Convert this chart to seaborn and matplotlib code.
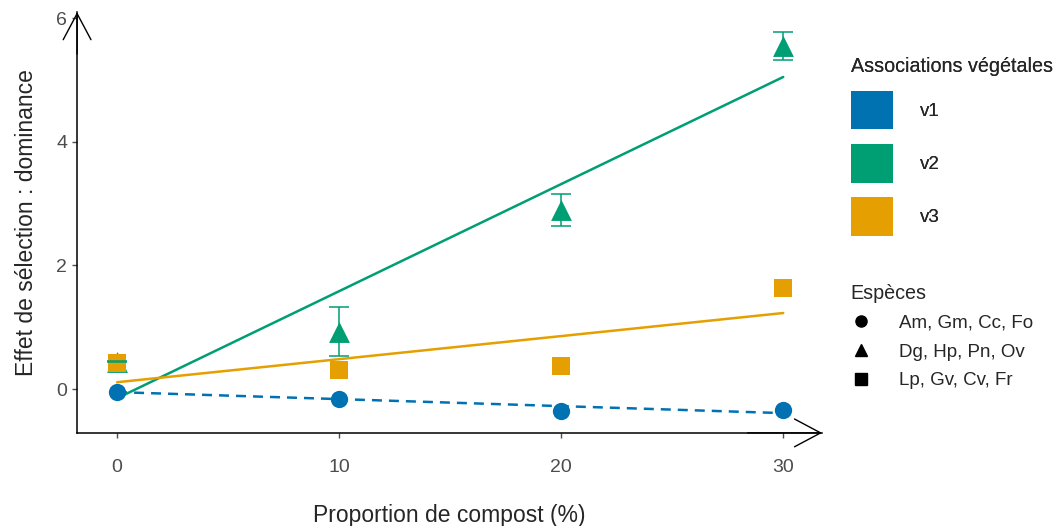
import numpy as np
import pandas as pd
import matplotlib
matplotlib.use('Agg')
import matplotlib.pyplot as plt
import seaborn as sns
from matplotlib.patches import Patch
from matplotlib.lines import Line2D

#------------------------------------------------------------------------------
# data
compost = [0, 10, 20, 30]
v1_mean = [-0.05, -0.16, -0.36, -0.34]
v2_mean = [0.44, 0.93, 2.90, 5.55]
v2_err = [0.01, 0.40, 0.26, 0.22]
v3_mean = [0.42, 0.30, 0.37, 1.63]

# fitted lines (value at 0 % and at 30 %)
fit_x = [0, 30]
v1_fit = [-0.05, -0.39]
v2_fit = [-0.15, 5.05]
v3_fit = [0.11, 1.23]

assoc = ['v1', 'v2', 'v3']
especes = ['Am, Gm, Cc, Fo', 'Dg, Hp, Pn, Ov', 'Lp, Gv, Cv, Fr']
colors = {'v1': '#0072B2', 'v2': '#009E73', 'v3': '#E69F00'}
markers = {'v1': 'o', 'v2': '^', 'v3': 's'}
sizes = {'v1': 155, 'v2': 225, 'v3': 160}
#------------------------------------------------------------------------------
df = pd.DataFrame({'compost': compost * 3,
                   'effet': v1_mean + v2_mean + v3_mean,
                   'assoc': ['v1'] * 4 + ['v2'] * 4 + ['v3'] * 4})
df_fit = pd.DataFrame({'compost': fit_x * 3,
                       'effet': v1_fit + v2_fit + v3_fit,
                       'assoc': ['v1'] * 2 + ['v2'] * 2 + ['v3'] * 2})

sns.set_style('white')
plt.rcParams['font.family'] = ['Liberation Sans', 'DejaVu Sans']

fig = plt.figure(figsize=(10.56, 5.26), dpi=100)
ax = fig.add_axes([0.073, 0.177, 0.7055, 0.800])

# fitted lines
for a in assoc:
    sub = df_fit[df_fit.assoc == a]
    if a == 'v1':
        sns.lineplot(data=sub, x='compost', y='effet', color=colors[a],
                     lw=1.8, ax=ax, legend=False, zorder=2,
                     dashes=(4, 2.8))
    else:
        sns.lineplot(data=sub, x='compost', y='effet', color=colors[a],
                     lw=1.8, ax=ax, legend=False, zorder=2)

# points
for a in ['v2', 'v3', 'v1']:
    sub = df[df.assoc == a]
    sns.scatterplot(data=sub, x='compost', y='effet', color=colors[a],
                    marker=markers[a], s=sizes[a], linewidth=0, ax=ax,
                    legend=False, zorder=3)

ax.errorbar(compost, v2_mean, yerr=v2_err, fmt='none', ecolor=colors['v2'],
            elinewidth=1.1, capsize=7, capthick=1.1, zorder=4)

ax.set_xlim(-1.8, 31.75)
ax.set_ylim(-0.71, 6.1)
ax.set_xticks([0, 10, 20, 30])
ax.set_yticks([0, 2, 4, 6])
ax.tick_params(axis='both', colors='#4D4D4D', labelsize=14, length=3.6,
               width=1, direction='out', bottom=True, left=True)
ax.tick_params(axis='x', pad=15)
ax.tick_params(axis='y', pad=3.5)
for s in ['top', 'right']:
    ax.spines[s].set_visible(False)
for s in ['left', 'bottom']:
    ax.spines[s].set_color('black')
    ax.spines[s].set_linewidth(1.1)

# arrow heads on the axes
arrow = dict(arrowstyle='->,head_length=0.94,head_width=0.5', color='black',
             lw=1.0, mutation_scale=20, shrinkA=0, shrinkB=0)
ax.annotate('', xy=(0, 1), xytext=(0, 0.9), xycoords='axes fraction',
            arrowprops=arrow)
ax.annotate('', xy=(1, 0), xytext=(0.9, 0), xycoords='axes fraction',
            arrowprops=arrow)

ax.set_xlabel('Proportion de compost (%)', fontsize=16.5, labelpad=20)
ax.set_ylabel('Effet de sélection : dominance', fontsize=16.5, labelpad=13)

# legends
h1 = [Patch(facecolor=colors[a], edgecolor='none') for a in assoc]
leg1 = fig.legend(h1, assoc, title='Associations végétales',
                  loc='upper left', bbox_to_anchor=(0.7985, 0.905),
                  frameon=False, fontsize=13.5, title_fontsize=14.2,
                  handlelength=2.24, handleheight=2.82, labelspacing=0.75,
                  handletextpad=1.44, alignment='left', borderaxespad=0)
h2 = [Line2D([], [], ls='none', marker=m, color='black', markersize=8)
      for m in ['o', '^', 's']]
leg2 = fig.legend(h2, especes, title='Espèces', loc='upper left',
                  bbox_to_anchor=(0.7985, 0.474), frameon=False,
                  fontsize=13.5, title_fontsize=14.2, labelspacing=0.62,
                  handletextpad=1.45, handlelength=1.1, alignment='left',
                  borderaxespad=0)
fig.add_artist(leg1)

fig.savefig('out.png', dpi=100)
